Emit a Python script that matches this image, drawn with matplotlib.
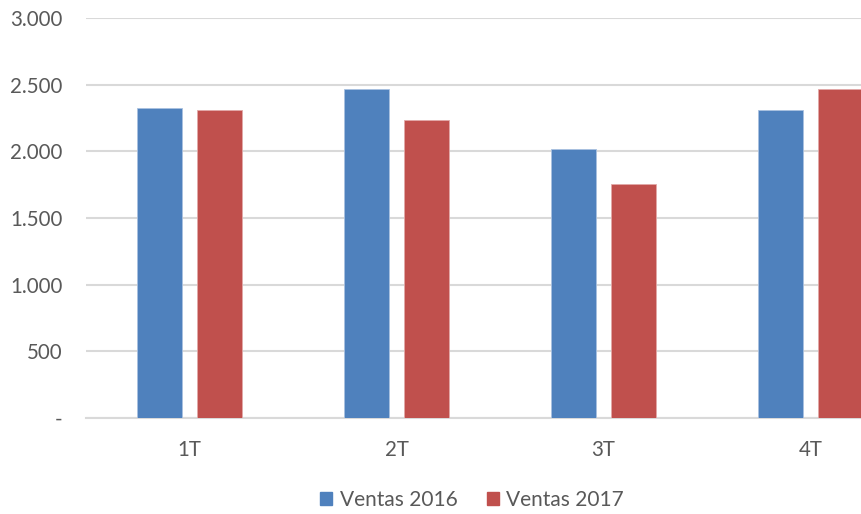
import numpy as np
import matplotlib.pyplot as plt
from matplotlib.patches import Patch
from matplotlib.ticker import FuncFormatter

quarters = ["1T", "2T", "3T", "4T"]
ventas_2016 = [2323, 2470, 2015, 2310]
ventas_2017 = [2310, 2237, 1755, 2470]
series_names = ["Ventas 2016", "Ventas 2017"]

blue = "#4F81BD"
red = "#C0504D"
grid_col = "#D9D9D9"
text_col = "#595959"

plt.rcParams['font.family'] = ['Lato', 'DejaVu Sans']

fig = plt.figure(figsize=(8.61, 5.14), dpi=100)
# plot area runs past the right edge of the picture (as in the original crop)
ax = fig.add_axes([86 / 861, 96 / 514, 828 / 861, 400 / 514])

x = np.arange(len(quarters))
w = 0.222
off = 0.145
ax.bar(x - off, ventas_2016, w, color=blue, edgecolor="#A9C1E0", linewidth=0.6, zorder=3)
ax.bar(x + off, ventas_2017, w, color=red, edgecolor="#E2A9A8", linewidth=0.6, zorder=3)

ax.set_xlim(-0.5, len(quarters) - 0.5)
ax.set_ylim(0, 3000)
ax.set_yticks(np.arange(0, 3001, 500))
ax.yaxis.set_major_formatter(FuncFormatter(
    lambda v, p: "-" if v == 0 else f"{int(v):,}".replace(",", ".")))
ax.set_xticks(x)
ax.set_xticklabels(quarters)

ax.grid(axis="y", color=grid_col, linewidth=1.5, zorder=0)
for s in ["top", "right", "left"]:
    ax.spines[s].set_visible(False)
ax.spines["bottom"].set_color(grid_col)
ax.spines["bottom"].set_linewidth(1.5)
ax.tick_params(axis="both", length=0, labelsize=14.8, colors=text_col)
ax.tick_params(axis="y", pad=17)
ax.tick_params(axis="x", pad=16)

handles = [Patch(color=blue), Patch(color=red)]
fig.legend(handles, series_names, loc="center", bbox_to_anchor=(472 / 861, 1 - 500 / 514),
           ncol=2, frameon=False, fontsize=15, labelcolor=text_col,
           handlelength=0.6, handleheight=0.6, handletextpad=0.35, columnspacing=1.4)

fig.savefig("out.png", dpi=100)
